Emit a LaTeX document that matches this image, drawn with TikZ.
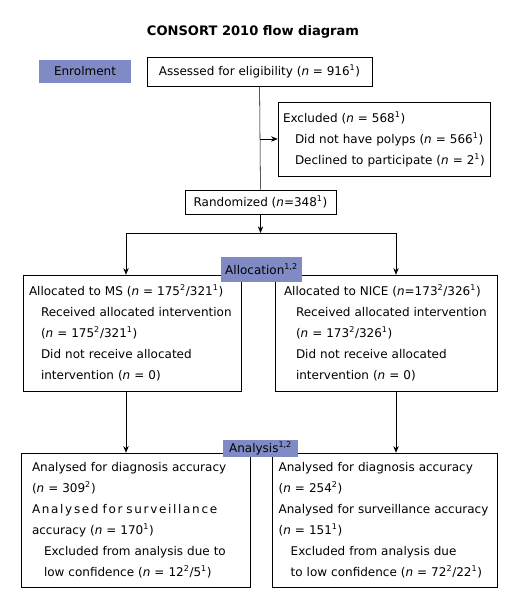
\documentclass[tikz,border=0pt]{standalone}
\usepackage{fontspec}
\setmainfont{DejaVu Sans}
\usepackage{tikz}
\usetikzlibrary{arrows.meta}
\definecolor{stage}{RGB}{128,138,196}

\newcommand{\nn}{\textit{n}}
\newcommand{\ind}{\hspace*{9pt}}

\begin{document}
\begin{tikzpicture}[x=0.75pt,y=0.75pt,yscale=-1,xscale=1,
  box/.style={draw, inner ysep=0pt, align=left, font=\fontsize{9}{15.75}\selectfont},
  stagebox/.style={fill=stage, inner sep=0pt, font=\fontsize{9}{11}\selectfont},
  flow/.style={-{Stealth[length=5pt,width=4pt]}}]
\useasboundingbox (0,0) rectangle (524,616);

% Title
\node (title) at (253,32) {\fontsize{9.8}{12}\selectfont\bfseries CONSORT 2010 flow diagram};

% Enrolment
\node [stagebox, minimum width=69pt, minimum height=17.25pt] (enrol) at (85,71.5) {Enrolment};
\node [box, align=center, minimum width=168.75pt, minimum height=21.75pt] (assess) at (259.5,71.5)
  {Assessed for eligibility (\nn{} = 916\textsuperscript{1})};
\node [box, inner xsep=3.75pt, text width=151.5pt, minimum height=55.5pt] (excl) at (384,139)
  {Excluded (\nn{} = 568\textsuperscript{1})\\
   \ind Did not have polyps (\nn{} = 566\textsuperscript{1})\\
   \ind Declined to participate (\nn{} = 2\textsuperscript{1})};
\node [box, align=center, minimum width=113.25pt, minimum height=18pt] (rand) at (260.5,202)
  {Randomized (\nn{}=348\textsuperscript{1})};

% Allocation
\node [box, inner xsep=4.5pt, text width=154.5pt, minimum height=87pt] (ms) at (132,333)
  {Allocated to MS (\nn{} = 175\textsuperscript{2}/321\textsuperscript{1})\\
   \ind Received allocated intervention\\
   \ind (\nn{} = 175\textsuperscript{2}/321\textsuperscript{1})\\
   \ind Did not receive allocated\\
   \ind intervention (\nn{} = 0)};
\node [box, inner xsep=6.75pt, text width=153pt, minimum height=87pt] (nice) at (386,333)
  {Allocated to NICE (\nn{}=173\textsuperscript{2}/326\textsuperscript{1})\\
   \ind Received allocated intervention\\
   \ind (\nn{} = 173\textsuperscript{2}/326\textsuperscript{1})\\
   \ind Did not receive allocated\\
   \ind intervention (\nn{} = 0)};
\node [stagebox, minimum width=60.75pt, minimum height=18.75pt] (alloc) at (261.5,269.5)
  {Allocation\textsuperscript{1,2}};

% Analysis
\node [box, inner xsep=8.25pt, text width=155.25pt, minimum height=100.5pt] (msan) at (135.5,520)
  {Analysed for diagnosis accuracy\\
   (\nn{} = 309\textsuperscript{2})\\
   {\addfontfeature{LetterSpace=14}Analysed for surveillance}\\
   accuracy (\nn{} = 170\textsuperscript{1})\\
   \ind Excluded from analysis due to\\
   \ind low confidence (\nn{} = 12\textsuperscript{2}/5\textsuperscript{1})};
\node [box, inner xsep=5pt, text width=158.75pt, minimum height=100.5pt] (nican) at (384.5,520)
  {\hyphenpenalty=10000 Analysed for diagnosis accuracy\\
   (\nn{} = 254\textsuperscript{2})\\
   Analysed for surveillance accuracy\\
   (\nn{} = 151\textsuperscript{1})\\
   \ind Excluded from analysis due\\
   \ind to low confidence (\nn{} = 72\textsuperscript{2}/22\textsuperscript{1})};
\node [stagebox, minimum width=56.25pt, minimum height=12.75pt] (ana) at (260.5,448.5)
  {Analysis\textsuperscript{1,2}};

% Connectors
\coordinate (lft) at (126,233);
\coordinate (rgt) at (396,233);
\draw (assess) -- (rand);
\draw [flow] (assess.south |- excl.west) -- (excl.west);
\draw [flow] (rand) -- (rand.south |- lft);
\draw (lft) -- (rgt);
\draw [flow] (lft) -- (lft |- ms.north);
\draw [flow] (rgt) -- (rgt |- nice.north);
\draw [flow] (ms.south -| lft) -- (msan.north -| lft);
\draw [flow] (nice.south -| rgt) -- (nican.north -| rgt);

\end{tikzpicture}
\end{document}
